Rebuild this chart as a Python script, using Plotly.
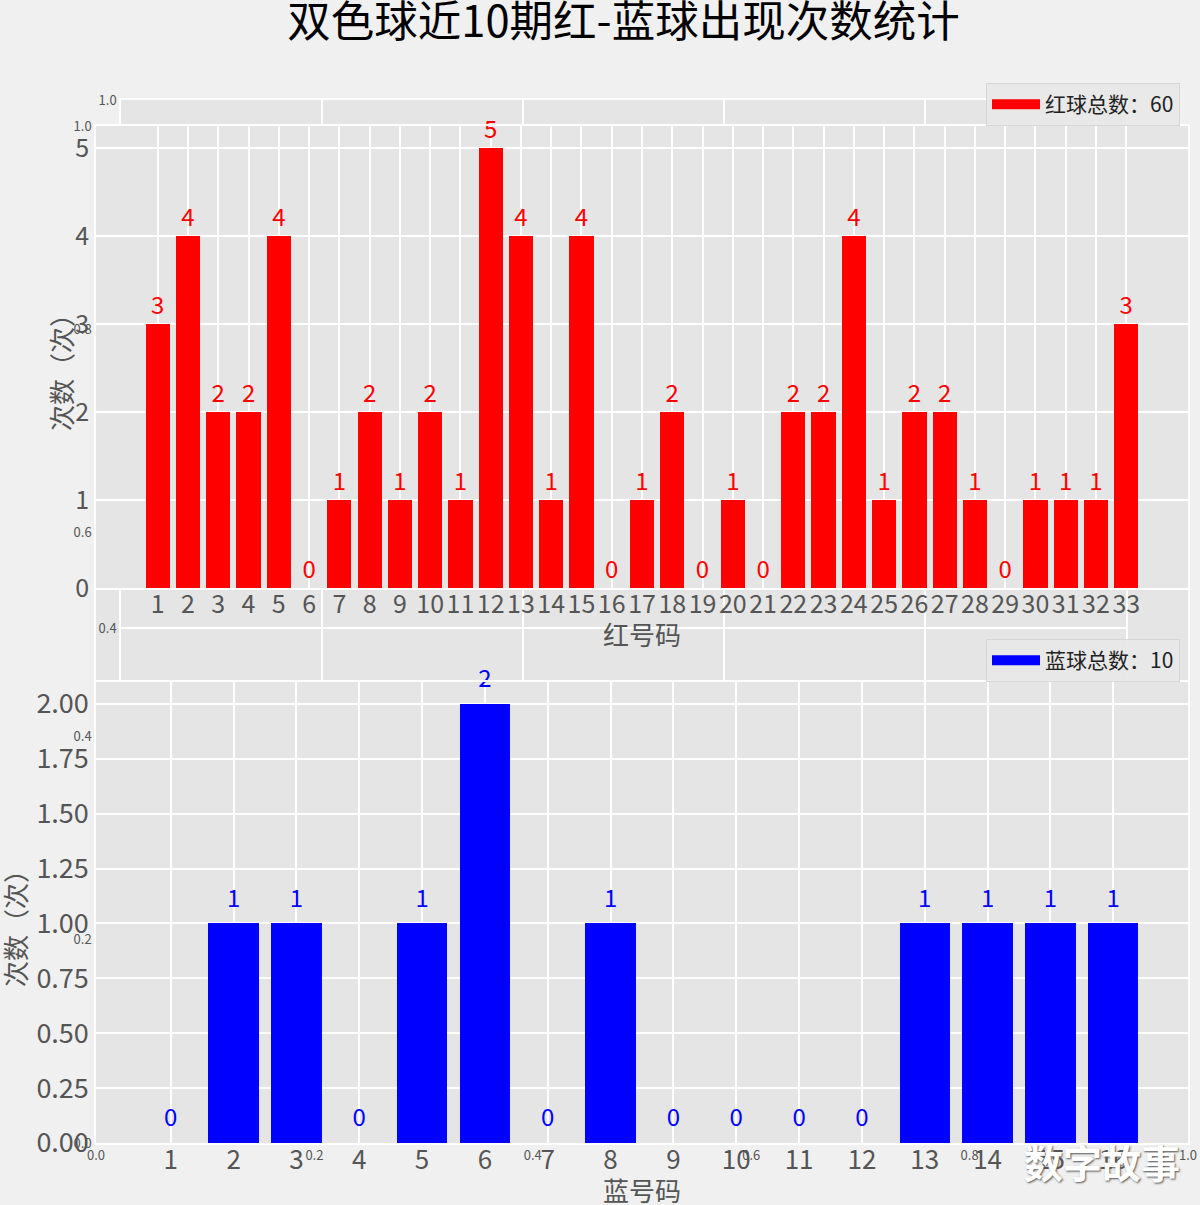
import plotly.graph_objects as go

# ---------------- data ----------------
title_text = "双色球近10期红-蓝球出现次数统计"
red_numbers = list(range(1, 34))
red_counts = [3, 4, 2, 2, 4, 0, 1, 2, 1, 2, 1, 5, 4, 1, 4, 0, 1,
              2, 0, 1, 0, 2, 2, 4, 1, 2, 2, 1, 0, 1, 1, 1, 3]
blue_numbers = list(range(1, 17))
blue_counts = [0, 1, 1, 0, 1, 2, 0, 1, 0, 0, 0, 0, 1, 1, 1, 1]
frame_ticks = [0.0, 0.2, 0.4, 0.6, 0.8, 1.0]
red_yticks = [0, 1, 2, 3, 4, 5]
blue_yticks = [0.0, 0.25, 0.5, 0.75, 1.0, 1.25, 1.5, 1.75, 2.0]
red_legend = "红球总数：" + str(sum(red_counts))
blue_legend = "蓝球总数：" + str(sum(blue_counts))
y_title = "次数（次）"
red_x_title = "红号码"
blue_x_title = "蓝号码"
watermark = "数字故事"

# ---------------- style ----------------
FONT = "Noto Sans CJK SC, Noto Sans, sans-serif"
PAPER = "#f0f0f0"
PANEL = "#e5e5e5"
GRID = "#ffffff"
TICK = "#555555"
W, H = 1200, 1205
BAR_W = 0.8


def pad_range(lo, hi, m=0.05):
    span = hi - lo
    return [lo - m * span, hi + m * span]


red_xr = pad_range(min(red_numbers) - BAR_W / 2, max(red_numbers) + BAR_W / 2)
red_yr = [0, max(red_counts) * 1.05]
blue_xr = pad_range(min(blue_numbers) - BAR_W / 2, max(blue_numbers) + BAR_W / 2)
blue_yr = [0, max(blue_counts) * 1.05]
label_off = 0.05


def px_x(p):
    return p / W


def px_y(p):
    return 1 - p / H


def axis_common(size):
    return dict(
        showgrid=True, gridcolor=GRID, gridwidth=1.5,
        showline=True, mirror=True, linecolor=GRID, linewidth=1.5,
        zeroline=False, ticks="", fixedrange=True, tickangle=0,
        tickfont=dict(family=FONT, size=size, color=TICK),
    )


fig = go.Figure()

# background frame axes (B: xy, A: x2y2)
fig.add_trace(go.Scatter(x=[None], y=[None], xaxis="x", yaxis="y",
                         showlegend=False, hoverinfo="skip"))
fig.add_trace(go.Scatter(x=[None], y=[None], xaxis="x2", yaxis="y2",
                         showlegend=False, hoverinfo="skip"))

# red balls
fig.add_trace(go.Bar(x=red_numbers, y=red_counts, width=BAR_W,
                     marker=dict(color="#ff0000", line=dict(width=0)),
                     xaxis="x3", yaxis="y3", showlegend=False))
fig.add_trace(go.Scatter(x=red_numbers, y=[v + label_off for v in red_counts],
                         text=[str(v) for v in red_counts], mode="text",
                         textposition="top center", cliponaxis=False,
                         textfont=dict(family=FONT, size=24, color="#ff0000"),
                         xaxis="x3", yaxis="y3", showlegend=False))
# blue balls
fig.add_trace(go.Bar(x=blue_numbers, y=blue_counts, width=BAR_W,
                     marker=dict(color="#0000ff", line=dict(width=0)),
                     xaxis="x4", yaxis="y4", showlegend=False))
fig.add_trace(go.Scatter(x=blue_numbers, y=[v + label_off for v in blue_counts],
                         text=[str(v) for v in blue_counts], mode="text",
                         textposition="top center", cliponaxis=False,
                         textfont=dict(family=FONT, size=24, color="#0000ff"),
                         xaxis="x4", yaxis="y4", showlegend=False))

# legend entries
fig.add_trace(go.Scatter(x=[None], y=[None], mode="lines", name=red_legend,
                         line=dict(color="#ff0000", width=14), legend="legend",
                         xaxis="x3", yaxis="y3"))
fig.add_trace(go.Scatter(x=[None], y=[None], mode="lines", name=blue_legend,
                         line=dict(color="#0000ff", width=14), legend="legend2",
                         xaxis="x4", yaxis="y4"))

frame_b_x = [px_x(96), px_x(1188)]
frame_b_y = [px_y(1143), px_y(126)]
frame_a_x = [px_x(121), px_x(1126)]
frame_a_y = [px_y(980), px_y(100)]
red_dom_y = [px_y(588), px_y(126)]
blue_dom_y = [px_y(1143), px_y(682)]
center_x = (frame_b_x[0] + frame_b_x[1]) / 2

title_font = dict(family=FONT, size=26, color=TICK)
legend_style = dict(bgcolor="rgba(232,232,232,0.9)", bordercolor="#d6d6d6", borderwidth=1,
                    itemwidth=48, font=dict(family=FONT, size=21, color="#222222"))

fig.update_layout(
    width=W, height=H,
    margin=dict(l=0, r=0, t=0, b=0, pad=0, autoexpand=False),
    paper_bgcolor=PAPER, plot_bgcolor=PANEL,
    font=dict(family=FONT, color=TICK),
    title=dict(text=title_text, x=(frame_a_x[0] + frame_a_x[1]) / 2, xanchor="center",
               y=px_y(22), yanchor="middle",
               font=dict(family=FONT, size=43.5, color="#000000")),
    bargap=0,
    xaxis=dict(domain=frame_b_x, anchor="y", range=[0, 1], tickvals=frame_ticks,
               tickformat=".1f", **axis_common(13)),
    yaxis=dict(domain=frame_b_y, anchor="x", range=[0, 1], tickvals=frame_ticks,
               tickformat=".1f", **axis_common(13)),
    xaxis2=dict(domain=frame_a_x, anchor="y2", range=[0, 1], tickvals=frame_ticks,
                tickformat=".1f", **axis_common(13)),
    yaxis2=dict(domain=frame_a_y, anchor="x2", range=[0, 1], tickvals=frame_ticks,
                tickformat=".1f", **axis_common(13)),
    xaxis3=dict(domain=frame_b_x, anchor="y3", range=red_xr, tickvals=red_numbers,
                ticklabelstandoff=-7, **axis_common(25)),
    yaxis3=dict(domain=red_dom_y, anchor="x3", range=red_yr, tickvals=red_yticks,
                **axis_common(25)),
    xaxis4=dict(domain=frame_b_x, anchor="y4", range=blue_xr, tickvals=blue_numbers,
                ticklabelstandoff=-7, **axis_common(26)),
    yaxis4=dict(domain=blue_dom_y, anchor="x4", range=blue_yr, tickvals=blue_yticks,
                tickformat=".2f", **axis_common(27)),
    legend=dict(x=px_x(1180), xanchor="right", y=px_y(83), yanchor="top", **legend_style),
    legend2=dict(x=px_x(1180), xanchor="right", y=px_y(639), yanchor="top", **legend_style),
    shapes=[
        dict(type="rect", xref="x2", yref="y2", x0=0, x1=1, y0=0, y1=1,
             fillcolor=PANEL, line=dict(width=0), layer="below"),
        dict(type="rect", xref="x3", yref="y3", x0=red_xr[0], x1=red_xr[1],
             y0=red_yr[0], y1=red_yr[1], fillcolor=PANEL, line=dict(width=0), layer="below"),
        dict(type="rect", xref="x4", yref="y4", x0=blue_xr[0], x1=blue_xr[1],
             y0=blue_yr[0], y1=blue_yr[1], fillcolor=PANEL, line=dict(width=0), layer="below"),
    ],
    annotations=[
        dict(text=red_x_title, xref="paper", yref="paper", x=center_x, y=px_y(633),
             xanchor="center", yanchor="middle", showarrow=False, font=title_font),
        dict(text=blue_x_title, xref="paper", yref="paper", x=center_x, y=px_y(1189),
             xanchor="center", yanchor="middle", showarrow=False, font=title_font),
        dict(text=y_title, xref="paper", yref="paper", x=px_x(60), y=px_y(366),
             xanchor="center", yanchor="middle", textangle=-90, showarrow=False,
             font=title_font),
        dict(text=y_title, xref="paper", yref="paper", x=px_x(15), y=px_y(922),
             xanchor="center", yanchor="middle", textangle=-90, showarrow=False,
             font=title_font),
        dict(text=watermark, xref="paper", yref="paper", x=px_x(1102), y=px_y(1161),
             xanchor="center", yanchor="middle", showarrow=False,
             font=dict(family=FONT, size=39, color="#ffffff", weight="bold",
                       shadow="1px 1px 2px #555555")),
    ],
)

fig.write_html("out.html", config={"displayModeBar": False},
               post_script="document.body.style.margin='0';document.body.style.overflow='hidden';")
